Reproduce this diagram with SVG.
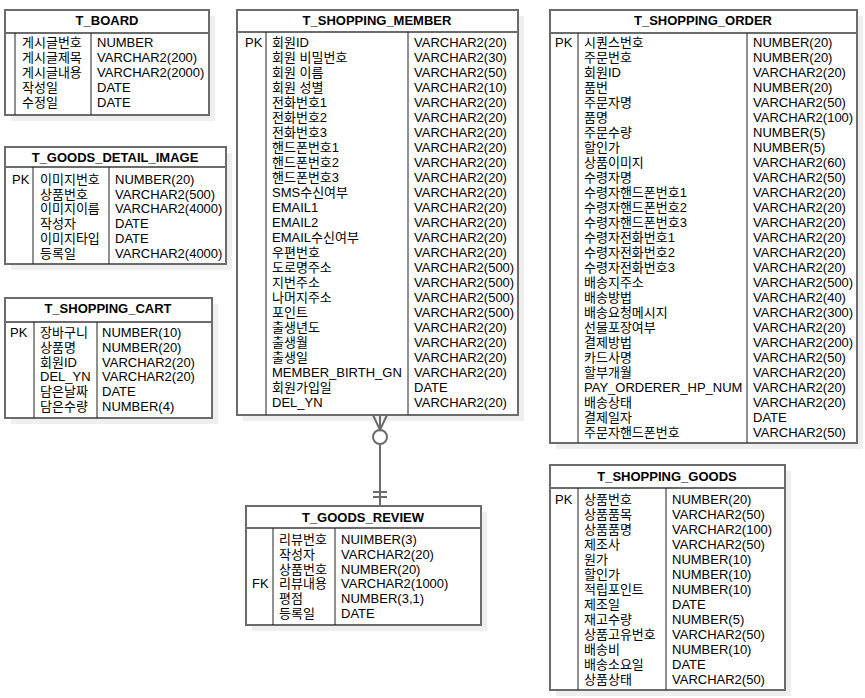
<svg xmlns="http://www.w3.org/2000/svg" width="865" height="698" viewBox="0 0 865 698">
  <style>
    .shadow { fill: #efefef; stroke: none; }
    .box { fill: #ffffff; stroke: #6b6b6b; stroke-width: 2; }
    .hdr { stroke: #6b6b6b; stroke-width: 2; }
    .col { stroke: #222222; stroke-width: 1; }
    .title { font-family: "Liberation Sans", "Noto Sans CJK KR", sans-serif; font-size: 13px; font-weight: bold; fill: #000; text-anchor: middle; }
    .t { font-family: "Liberation Sans", "Noto Sans CJK KR", sans-serif; font-size: 13px; fill: #000; }
    .conn { stroke: #6b6b6b; stroke-width: 2; fill: none; }
  </style>

  <!-- T_BOARD -->
  <g id="t_board">
    <rect class="shadow" x="11" y="16" width="204" height="105"/>
    <rect class="box" x="5" y="10" width="204" height="105"/>
    <line class="hdr" x1="5" y1="33" x2="209" y2="33"/>
    <line class="col" x1="15" y1="33" x2="15" y2="115"/>
    <line class="col" x1="91" y1="33" x2="91" y2="115"/>
    <text class="title" x="107" y="25">T_BOARD</text>
    <text class="t"><tspan x="22" y="47">게시글번호</tspan><tspan x="22" y="62">게시글제목</tspan><tspan x="22" y="77">게시글내용</tspan><tspan x="22" y="92">작성일</tspan><tspan x="22" y="107">수정일</tspan></text>
    <text class="t"><tspan x="97" y="47">NUMBER</tspan><tspan x="97" y="62">VARCHAR2(200)</tspan><tspan x="97" y="77">VARCHAR2(2000)</tspan><tspan x="97" y="92">DATE</tspan><tspan x="97" y="107">DATE</tspan></text>
  </g>

  <!-- T_GOODS_DETAIL_IMAGE -->
  <g id="t_goods_detail_image">
    <rect class="shadow" x="11" y="153" width="221" height="117"/>
    <rect class="box" x="5" y="147" width="221" height="117"/>
    <line class="hdr" x1="5" y1="167" x2="226" y2="167"/>
    <line class="col" x1="33" y1="167" x2="33" y2="264"/>
    <line class="col" x1="109" y1="167" x2="109" y2="264"/>
    <text class="title" x="115" y="162">T_GOODS_DETAIL_IMAGE</text>
    <text class="t" x="12" y="184">PK</text>
    <text class="t"><tspan x="40" y="184">이미지번호</tspan><tspan x="40" y="198.7">상품번호</tspan><tspan x="40" y="213.4">이미지이름</tspan><tspan x="40" y="228.1">작성자</tspan><tspan x="40" y="242.8">이미지타입</tspan><tspan x="40" y="257.5">등록일</tspan></text>
    <text class="t"><tspan x="115" y="184">NUMBER(20)</tspan><tspan x="115" y="198.7">VARCHAR2(500)</tspan><tspan x="115" y="213.4">VARCHAR2(4000)</tspan><tspan x="115" y="228.1">DATE</tspan><tspan x="115" y="242.8">DATE</tspan><tspan x="115" y="257.5">VARCHAR2(4000)</tspan></text>
  </g>

  <!-- T_SHOPPING_CART -->
  <g id="t_shopping_cart">
    <rect class="shadow" x="11" y="304" width="207" height="120"/>
    <rect class="box" x="5" y="298" width="207" height="120"/>
    <line class="hdr" x1="5" y1="322" x2="212" y2="322"/>
    <line class="col" x1="34" y1="322" x2="34" y2="418"/>
    <line class="col" x1="97" y1="322" x2="97" y2="418"/>
    <text class="title" x="108" y="313">T_SHOPPING_CART</text>
    <text class="t" x="10" y="337">PK</text>
    <text class="t"><tspan x="40" y="337">장바구니</tspan><tspan x="40" y="351.8">상품명</tspan><tspan x="40" y="366.6">회원ID</tspan><tspan x="40" y="381.4">DEL_YN</tspan><tspan x="40" y="396.2">담은날짜</tspan><tspan x="40" y="411">담은수량</tspan></text>
    <text class="t"><tspan x="102" y="337">NUMBER(10)</tspan><tspan x="102" y="351.8">NUMBER(20)</tspan><tspan x="102" y="366.6">VARCHAR2(20)</tspan><tspan x="102" y="381.4">VARCHAR2(20)</tspan><tspan x="102" y="396.2">DATE</tspan><tspan x="102" y="411">NUMBER(4)</tspan></text>
  </g>

  <!-- T_SHOPPING_MEMBER -->
  <g id="t_shopping_member">
    <rect class="shadow" x="243" y="16" width="281" height="405"/>
    <rect class="box" x="237" y="10" width="281" height="405"/>
    <line class="hdr" x1="237" y1="32" x2="518" y2="32"/>
    <line class="col" x1="266" y1="32" x2="266" y2="415"/>
    <line class="col" x1="408" y1="32" x2="408" y2="415"/>
    <text class="title" x="377" y="25">T_SHOPPING_MEMBER</text>
    <text class="t" x="245" y="47">PK</text>
    <text class="t"><tspan x="272" y="47">회원ID</tspan><tspan x="272" dy="15">회원 비밀번호</tspan><tspan x="272" dy="15">회원 이름</tspan><tspan x="272" dy="15">회원 성별</tspan><tspan x="272" dy="15">전화번호1</tspan><tspan x="272" dy="15">전화번호2</tspan><tspan x="272" dy="15">전화번호3</tspan><tspan x="272" dy="15">핸드폰번호1</tspan><tspan x="272" dy="15">핸드폰번호2</tspan><tspan x="272" dy="15">핸드폰번호3</tspan><tspan x="272" dy="15">SMS수신여부</tspan><tspan x="272" dy="15">EMAIL1</tspan><tspan x="272" dy="15">EMAIL2</tspan><tspan x="272" dy="15">EMAIL수신여부</tspan><tspan x="272" dy="15">우편번호</tspan><tspan x="272" dy="15">도로명주소</tspan><tspan x="272" dy="15">지번주소</tspan><tspan x="272" dy="15">나머지주소</tspan><tspan x="272" dy="15">포인트</tspan><tspan x="272" dy="15">출생년도</tspan><tspan x="272" dy="15">출생월</tspan><tspan x="272" dy="15">출생일</tspan><tspan x="272" dy="15">MEMBER_BIRTH_GN</tspan><tspan x="272" dy="15">회원가입일</tspan><tspan x="272" dy="15">DEL_YN</tspan></text>
    <text class="t"><tspan x="414" y="47">VARCHAR2(20)</tspan><tspan x="414" dy="15">VARCHAR2(30)</tspan><tspan x="414" dy="15">VARCHAR2(50)</tspan><tspan x="414" dy="15">VARCHAR2(10)</tspan><tspan x="414" dy="15">VARCHAR2(20)</tspan><tspan x="414" dy="15">VARCHAR2(20)</tspan><tspan x="414" dy="15">VARCHAR2(20)</tspan><tspan x="414" dy="15">VARCHAR2(20)</tspan><tspan x="414" dy="15">VARCHAR2(20)</tspan><tspan x="414" dy="15">VARCHAR2(20)</tspan><tspan x="414" dy="15">VARCHAR2(20)</tspan><tspan x="414" dy="15">VARCHAR2(20)</tspan><tspan x="414" dy="15">VARCHAR2(20)</tspan><tspan x="414" dy="15">VARCHAR2(20)</tspan><tspan x="414" dy="15">VARCHAR2(20)</tspan><tspan x="414" dy="15">VARCHAR2(500)</tspan><tspan x="414" dy="15">VARCHAR2(500)</tspan><tspan x="414" dy="15">VARCHAR2(500)</tspan><tspan x="414" dy="15">VARCHAR2(500)</tspan><tspan x="414" dy="15">VARCHAR2(20)</tspan><tspan x="414" dy="15">VARCHAR2(20)</tspan><tspan x="414" dy="15">VARCHAR2(20)</tspan><tspan x="414" dy="15">VARCHAR2(20)</tspan><tspan x="414" dy="15">DATE</tspan><tspan x="414" dy="15">VARCHAR2(20)</tspan></text>
  </g>

  <!-- T_SHOPPING_ORDER -->
  <g id="t_shopping_order">
    <rect class="shadow" x="556" y="16" width="307" height="433"/>
    <rect class="box" x="550" y="10" width="307" height="433"/>
    <line class="hdr" x1="550" y1="33" x2="857" y2="33"/>
    <line class="col" x1="578" y1="33" x2="578" y2="443"/>
    <line class="col" x1="747" y1="33" x2="747" y2="443"/>
    <text class="title" x="703" y="25">T_SHOPPING_ORDER</text>
    <text class="t" x="555" y="47">PK</text>
    <text class="t"><tspan x="584" y="47">시퀀스번호</tspan><tspan x="584" dy="15">주문번호</tspan><tspan x="584" dy="15">회원ID</tspan><tspan x="584" dy="15">품번</tspan><tspan x="584" dy="15">주문자명</tspan><tspan x="584" dy="15">품명</tspan><tspan x="584" dy="15">주문수량</tspan><tspan x="584" dy="15">할인가</tspan><tspan x="584" dy="15">상품이미지</tspan><tspan x="584" dy="15">수령자명</tspan><tspan x="584" dy="15">수령자핸드폰번호1</tspan><tspan x="584" dy="15">수령자핸드폰번호2</tspan><tspan x="584" dy="15">수령자핸드폰번호3</tspan><tspan x="584" dy="15">수령자전화번호1</tspan><tspan x="584" dy="15">수령자전화번호2</tspan><tspan x="584" dy="15">수령자전화번호3</tspan><tspan x="584" dy="15">배송지주소</tspan><tspan x="584" dy="15">배송방법</tspan><tspan x="584" dy="15">배송요청메시지</tspan><tspan x="584" dy="15">선물포장여부</tspan><tspan x="584" dy="15">결제방법</tspan><tspan x="584" dy="15">카드사명</tspan><tspan x="584" dy="15">할부개월</tspan><tspan x="584" dy="15">PAY_ORDERER_HP_NUM</tspan><tspan x="584" dy="15">배송상태</tspan><tspan x="584" dy="15">결제일자</tspan><tspan x="584" dy="15">주문자핸드폰번호</tspan></text>
    <text class="t"><tspan x="753" y="47">NUMBER(20)</tspan><tspan x="753" dy="15">NUMBER(20)</tspan><tspan x="753" dy="15">VARCHAR2(20)</tspan><tspan x="753" dy="15">NUMBER(20)</tspan><tspan x="753" dy="15">VARCHAR2(50)</tspan><tspan x="753" dy="15">VARCHAR2(100)</tspan><tspan x="753" dy="15">NUMBER(5)</tspan><tspan x="753" dy="15">NUMBER(5)</tspan><tspan x="753" dy="15">VARCHAR2(60)</tspan><tspan x="753" dy="15">VARCHAR2(50)</tspan><tspan x="753" dy="15">VARCHAR2(20)</tspan><tspan x="753" dy="15">VARCHAR2(20)</tspan><tspan x="753" dy="15">VARCHAR2(20)</tspan><tspan x="753" dy="15">VARCHAR2(20)</tspan><tspan x="753" dy="15">VARCHAR2(20)</tspan><tspan x="753" dy="15">VARCHAR2(20)</tspan><tspan x="753" dy="15">VARCHAR2(500)</tspan><tspan x="753" dy="15">VARCHAR2(40)</tspan><tspan x="753" dy="15">VARCHAR2(300)</tspan><tspan x="753" dy="15">VARCHAR2(20)</tspan><tspan x="753" dy="15">VARCHAR2(200)</tspan><tspan x="753" dy="15">VARCHAR2(50)</tspan><tspan x="753" dy="15">VARCHAR2(20)</tspan><tspan x="753" dy="15">VARCHAR2(20)</tspan><tspan x="753" dy="15">VARCHAR2(20)</tspan><tspan x="753" dy="15">DATE</tspan><tspan x="753" dy="15">VARCHAR2(50)</tspan></text>
  </g>

  <!-- T_GOODS_REVIEW -->
  <g id="t_goods_review">
    <rect class="shadow" x="252" y="512" width="235" height="119"/>
    <rect class="box" x="246" y="506" width="235" height="119"/>
    <line class="hdr" x1="246" y1="528" x2="481" y2="528"/>
    <line class="col" x1="273" y1="528" x2="273" y2="625"/>
    <line class="col" x1="335" y1="528" x2="335" y2="625"/>
    <text class="title" x="363" y="522">T_GOODS_REVIEW</text>
    <text class="t" x="252" y="588.4">FK</text>
    <text class="t"><tspan x="279" y="544">리뷰번호</tspan><tspan x="279" y="558.8">작성자</tspan><tspan x="279" y="573.6">상품번호</tspan><tspan x="279" y="588.4">리뷰내용</tspan><tspan x="279" y="603.2">평점</tspan><tspan x="279" y="618">등록일</tspan></text>
    <text class="t"><tspan x="341" y="544">NUIMBER(3)</tspan><tspan x="341" y="558.8">VARCHAR2(20)</tspan><tspan x="341" y="573.6">NUMBER(20)</tspan><tspan x="341" y="588.4">VARCHAR2(1000)</tspan><tspan x="341" y="603.2">NUMBER(3,1)</tspan><tspan x="341" y="618">DATE</tspan></text>
  </g>

  <!-- T_SHOPPING_GOODS -->
  <g id="t_shopping_goods">
    <rect class="shadow" x="556" y="471" width="235" height="225"/>
    <rect class="box" x="550" y="465" width="235" height="225"/>
    <line class="hdr" x1="550" y1="488" x2="785" y2="488"/>
    <line class="col" x1="578" y1="488" x2="578" y2="690"/>
    <line class="col" x1="666" y1="488" x2="666" y2="690"/>
    <text class="title" x="667" y="481">T_SHOPPING_GOODS</text>
    <text class="t" x="555" y="504">PK</text>
    <text class="t"><tspan x="584" y="504">상품번호</tspan><tspan x="584" dy="15">상품품목</tspan><tspan x="584" dy="15">상품품명</tspan><tspan x="584" dy="15">제조사</tspan><tspan x="584" dy="15">원가</tspan><tspan x="584" dy="15">할인가</tspan><tspan x="584" dy="15">적립포인트</tspan><tspan x="584" dy="15">제조일</tspan><tspan x="584" dy="15">재고수량</tspan><tspan x="584" dy="15">상품고유번호</tspan><tspan x="584" dy="15">배송비</tspan><tspan x="584" dy="15">배송소요일</tspan><tspan x="584" dy="15">상품상태</tspan></text>
    <text class="t"><tspan x="672" y="504">NUMBER(20)</tspan><tspan x="672" dy="15">VARCHAR2(50)</tspan><tspan x="672" dy="15">VARCHAR2(100)</tspan><tspan x="672" dy="15">VARCHAR2(50)</tspan><tspan x="672" dy="15">NUMBER(10)</tspan><tspan x="672" dy="15">NUMBER(10)</tspan><tspan x="672" dy="15">NUMBER(10)</tspan><tspan x="672" dy="15">DATE</tspan><tspan x="672" dy="15">NUMBER(5)</tspan><tspan x="672" dy="15">VARCHAR2(50)</tspan><tspan x="672" dy="15">NUMBER(10)</tspan><tspan x="672" dy="15">DATE</tspan><tspan x="672" dy="15">VARCHAR2(50)</tspan></text>
  </g>

  <!-- relationship: member (zero or many) to review (exactly one) -->
  <g id="connectors">
    <path class="conn" d="M373 415 L380 430 L387 415 M380 415 L380 430"/>
    <circle class="conn" cx="380" cy="437" r="7"/>
    <line class="conn" x1="380" y1="444" x2="380" y2="506"/>
    <line class="conn" x1="373" y1="492" x2="387" y2="492"/>
    <line class="conn" x1="373" y1="497" x2="387" y2="497"/>
  </g>
</svg>
